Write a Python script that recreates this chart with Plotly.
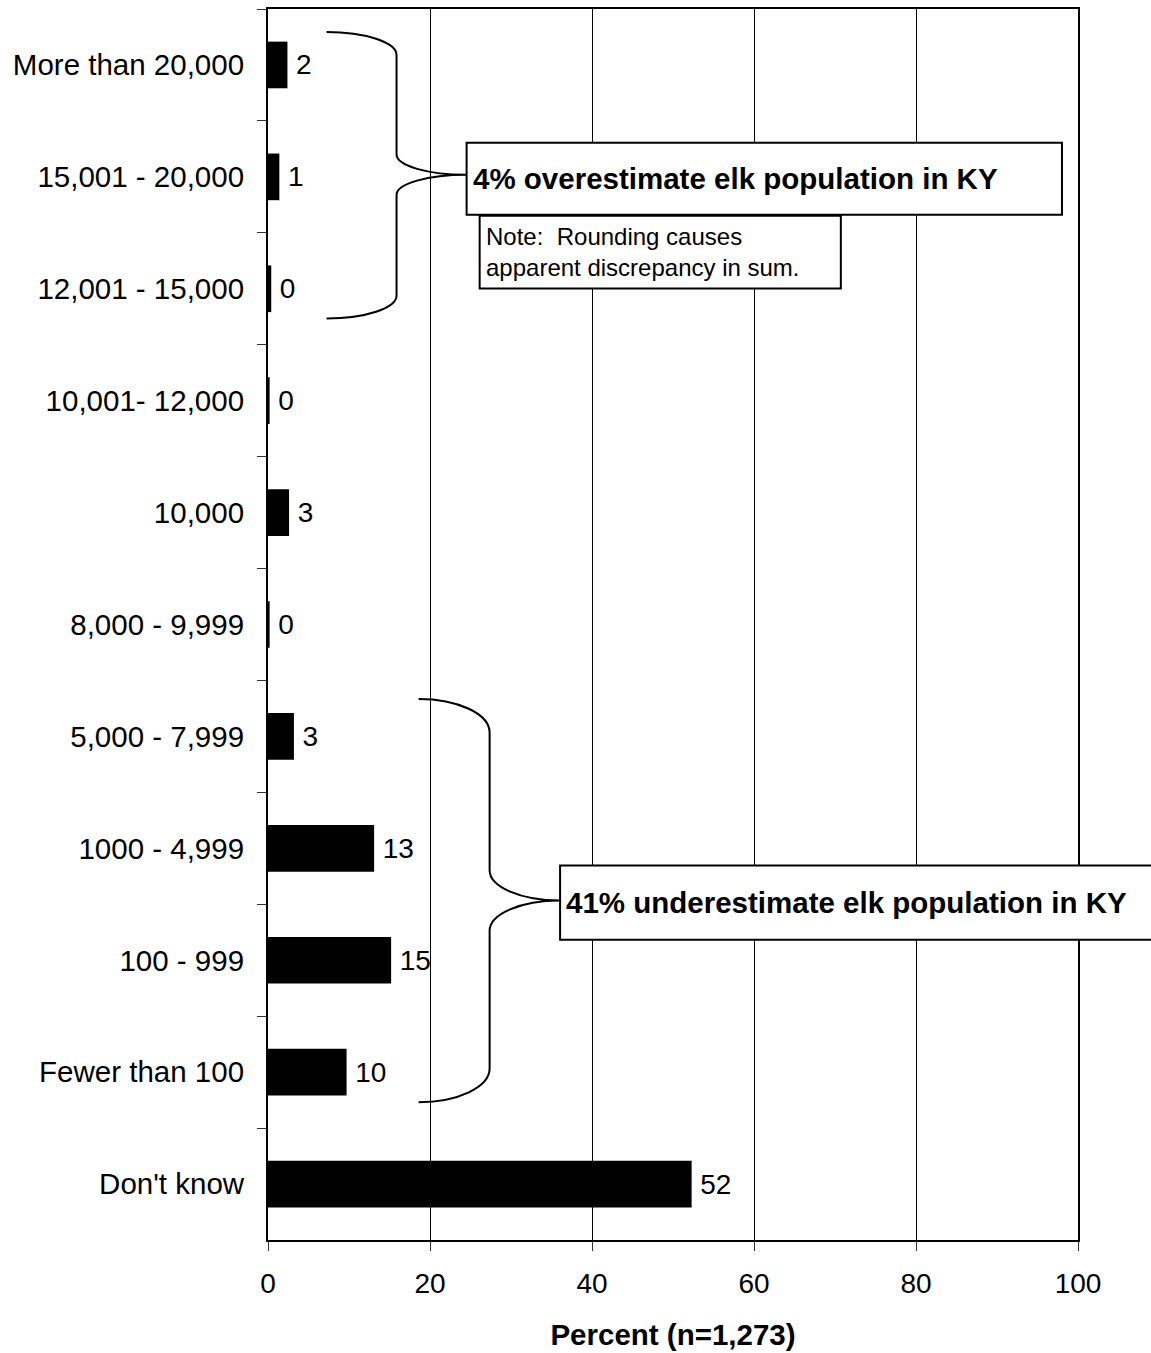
import plotly.graph_objects as go

# ---------------- data ----------------
categories = ["More than 20,000", "15,001 - 20,000", "12,001 - 15,000", "10,001- 12,000",
              "10,000", "8,000 - 9,999", "5,000 - 7,999", "1000 - 4,999", "100 - 999",
              "Fewer than 100", "Don't know"]
percents = [2.4, 1.4, 0.4, 0.2, 2.6, 0.2, 3.2, 13.1, 15.2, 9.7, 52.3]
x_ticks = [0, 20, 40, 60, 80, 100]
x_title = "Percent (n=1,273)"
over_text = "4% overestimate elk population in KY"
under_text = "41% underestimate elk population in KY"
note_lines = ["Note:\u00a0 Rounding causes", "apparent discrepancy in sum."]

FONT = "Liberation Sans, Arial, sans-serif"
N = len(categories)


def xp(x):
    """percent value -> paper x"""
    return x / 100.0


def yp(i):
    """category index (0 = top row) -> paper y"""
    return 1 - (i + 0.5) / N


def brace_path(x0, xm, xt, i_top, i_tip, i_bot, r_end, r_tip):
    k = 0.5523
    def P(x, i):
        return f"{xp(x):.5f},{yp(i):.5f}"
    d = []
    d.append("M " + P(x0, i_top))
    d.append("C " + P(x0 + k * (xm - x0), i_top) + " " + P(xm, i_top + r_end * (1 - k)) + " " + P(xm, i_top + r_end))
    d.append("L " + P(xm, i_tip - r_tip))
    d.append("C " + P(xm, i_tip - r_tip * (1 - k)) + " " + P(xt - k * (xt - xm), i_tip) + " " + P(xt, i_tip))
    d.append("C " + P(xt - k * (xt - xm), i_tip) + " " + P(xm, i_tip + r_tip * (1 - k)) + " " + P(xm, i_tip + r_tip))
    d.append("L " + P(xm, i_bot - r_end))
    d.append("C " + P(xm, i_bot - r_end * (1 - k)) + " " + P(x0 + k * (xm - x0), i_bot) + " " + P(x0, i_bot))
    return " ".join(d)


fig = go.Figure()
fig.add_trace(go.Bar(
    x=percents, y=categories, orientation="h",
    marker=dict(color="black", line=dict(width=0)),
    width=0.417,
    texttemplate="\u2009%{x:.0f}", textposition="outside",
    textfont=dict(family=FONT, size=28, color="black"),
    constraintext="none", cliponaxis=False,
    hoverinfo="skip",
))

shapes = []
# braces
shapes.append(dict(type="path", xref="paper", yref="paper",
                   path=brace_path(7.23, 15.87, 24.52, -0.294, 0.981, 2.266, 0.205, 0.18),
                   line=dict(color="black", width=2), layer="above"))
shapes.append(dict(type="path", xref="paper", yref="paper",
                   path=brace_path(18.59, 27.36, 36.01, 5.665, 7.466, 9.268, 0.30, 0.27),
                   line=dict(color="black", width=2), layer="above"))


# boxes
def box(xa, xb, ia, ib):
    return dict(type="rect", xref="paper", yref="paper",
                x0=xp(xa), x1=xp(xb), y0=yp(ib), y1=yp(ia),
                fillcolor="white", line=dict(color="black", width=2), layer="above")


shapes.append(box(24.52, 98.02, 0.696, 1.338))
shapes.append(box(26.13, 70.72, 1.347, 1.998))
shapes.append(box(36.06, 109.5, 7.154, 7.817))

annotations = [
    dict(x=xp(25.1), y=yp(1.017), xref="paper", yref="paper", text="<b>" + over_text + "</b>",
         showarrow=False, xanchor="left", yanchor="middle",
         font=dict(family=FONT, size=29.5, color="black")),
    dict(x=xp(26.7), y=yp(1.668), xref="paper", yref="paper", text="<br>".join(note_lines),
         showarrow=False, xanchor="left", yanchor="middle", align="left",
         font=dict(family=FONT, size=24, color="black")),
    dict(x=xp(36.6), y=yp(7.484), xref="paper", yref="paper", text="<b>" + under_text + "</b>",
         showarrow=False, xanchor="left", yanchor="middle",
         font=dict(family=FONT, size=29.5, color="black")),
]

fig.update_layout(
    width=1151, height=1353,
    margin=dict(l=268, r=73, t=7, b=113, pad=0),
    paper_bgcolor="white", plot_bgcolor="white",
    showlegend=False,
    font=dict(family=FONT, color="black"),
    shapes=shapes, annotations=annotations,
    bargap=0.583,
)
fig.update_xaxes(
    range=[0, 100], tickvals=x_ticks, ticktext=[str(t) for t in x_ticks],
    showgrid=True, gridcolor="black", gridwidth=1, zeroline=False,
    showline=True, linecolor="black", linewidth=2, mirror=True,
    ticks="outside", ticklen=9, tickwidth=1, tickcolor="#333",
    tickfont=dict(family=FONT, size=28, color="black"),
    ticklabelstandoff=8,
    title=dict(text="<b>" + x_title + "</b>", font=dict(family=FONT, size=29.5, color="black"),
               standoff=27),
)
fig.update_yaxes(
    type="category", categoryorder="array", categoryarray=categories,
    range=[N - 0.5, -0.5],
    showgrid=False, zeroline=False,
    showline=True, linecolor="black", linewidth=2, mirror=True,
    ticks="outside", ticklen=9, tickwidth=1, tickcolor="#333", tickson="boundaries",
    tickfont=dict(family=FONT, size=29.5, color="black"),
    ticklabelstandoff=16,
)

fig.write_html("out.html",
               config={"displayModeBar": False, "staticPlot": True},
               post_script="document.body.style.margin='0';document.body.style.overflow='hidden';")
